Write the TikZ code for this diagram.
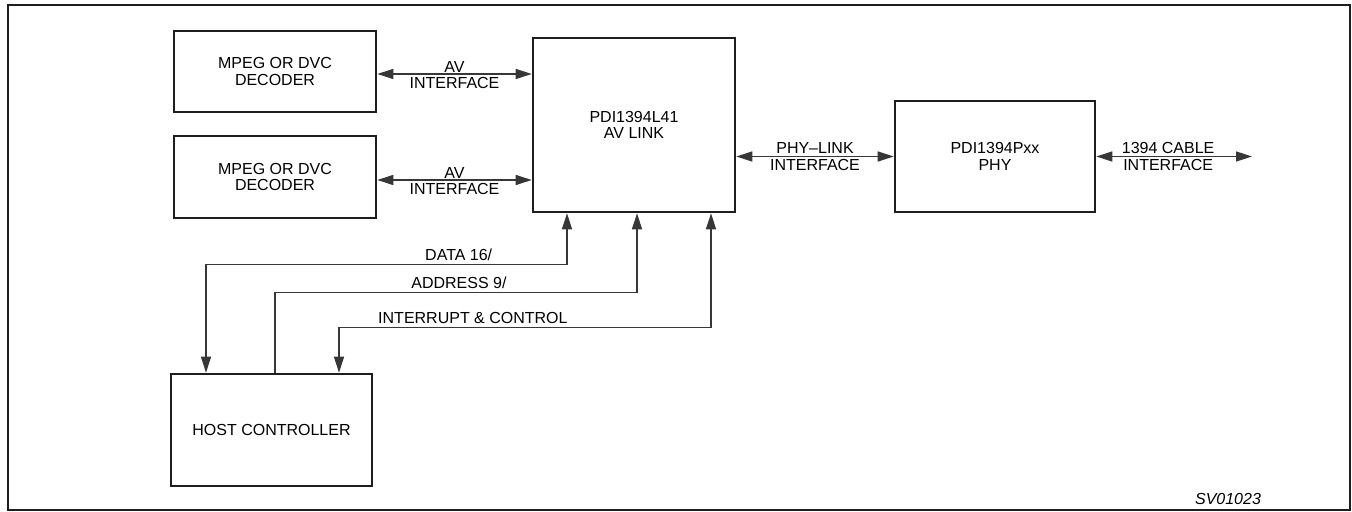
\documentclass[tikz,border=0pt]{standalone}
\usepackage{fontspec}
\setmainfont{Liberation Sans}
\usetikzlibrary{arrows.meta}
\definecolor{ink}{RGB}{30, 30, 30}
\definecolor{wire}{RGB}{55, 55, 55}

\begin{document}
\begin{tikzpicture}[x=0.5pt, y=-0.5pt, >={Triangle[length=8pt, width=5pt]},
    every node/.style={font=\fontsize{8}{8.4}\selectfont, align=center},
    block/.style={draw=ink, line width=1.3pt, inner sep=0pt},
    bus/.style={draw=wire, line width=0.75pt},
    buslabel/.style={above, inner sep=1.5pt}]
      \useasboundingbox (0,0) rectangle (1352,512);

      % Frame
      \draw[ink, line width=1pt] (8,5) rectangle (1350,510);

      % Blocks
      \node[block, minimum width=101pt, minimum height=40.5pt] (dec1) at (275,71.5) {MPEG OR DVC\\DECODER};
      \node[block, minimum width=101pt, minimum height=41pt] (dec2) at (275,177) {MPEG OR DVC\\DECODER};
      \node[block, minimum width=101pt, minimum height=87pt] (link) at (634,125) {PDI1394L41\\AV LINK};
      \node[block, minimum width=100pt, minimum height=55.5pt] (phy) at (995,156.5) {PDI1394Pxx\\PHY};
      \node[block, minimum width=100.5pt, minimum height=56pt] (host) at (271.5,430) {HOST CONTROLLER};
      \coordinate (cable) at (1252,156.5);
      \coordinate (av1) at ([yshift=-1.25pt]dec1.east);
      \coordinate (av2) at ([yshift=-1.5pt]dec2.east);

      % Interfaces
      \draw[<->, bus] (av1) -- (av1 -| link.west) node[midway, yshift=-0.5pt] {AV\\INTERFACE};
      \draw[<->, bus] (av2) -- (av2 -| link.west) node[midway, yshift=-0.5pt] {AV\\INTERFACE};
      \draw[<->, bus] (phy.west -| link.east) -- (phy.west) node[midway] {PHY--LINK\\INTERFACE};
      \draw[<->, bus] (phy.east) -- (cable) node[midway, xshift=-3pt] {1394 CABLE\\INTERFACE};

      % Host buses
      \draw[<->, bus] ([xshift=-33.5pt]link.south) -- ++(0,51) -| ([xshift=-32.75pt]host.north) node[buslabel, pos=0.15] {DATA 16/};
      \draw[->, bus] ([xshift=1.75pt]host.north) -- ++(0,-80) -| ([xshift=1.5pt]link.south) node[buslabel, pos=0.254] {ADDRESS 9/};
      \draw[<->, bus] ([xshift=38.5pt]link.south) -- ++(0,114) -| ([xshift=33.75pt]host.north) node[buslabel, pos=0.32] {INTERRUPT \& CONTROL};

      % Figure tag
      \node[font=\fontsize{8}{8.4}\selectfont\itshape] (tag) at (1228,499) {SV01023};
    \end{tikzpicture}
\end{document}
